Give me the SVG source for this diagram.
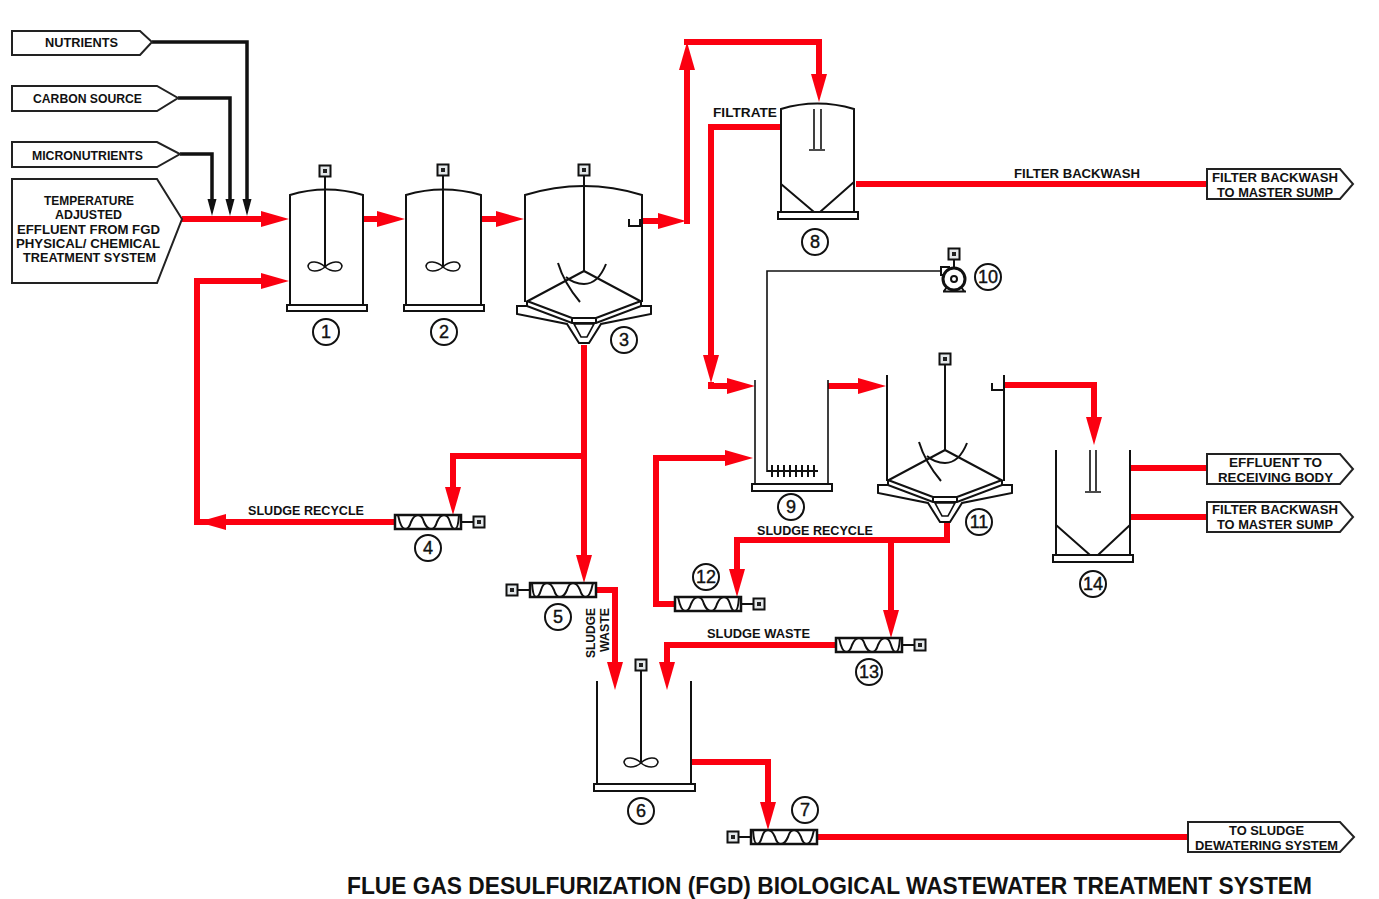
<svg xmlns="http://www.w3.org/2000/svg" xmlns:xlink="http://www.w3.org/1999/xlink" width="1379" height="899" viewBox="0 0 1379 899">
<style>
.l{fill:none;stroke:#111;stroke-width:2}
.n{fill:none;stroke:#111;stroke-width:1.6}
.b{fill:#fff;stroke:#111;stroke-width:2}
.tag{fill:#fff;stroke:#222;stroke-width:2}
.red{fill:none;stroke:#fb0010;stroke-width:6}
.ra{marker-end:url(#rh)}
.blk{fill:none;stroke:#111;stroke-width:3.5}
.ba{marker-end:url(#bh)}
text{font-family:"Liberation Sans",Arial,sans-serif;fill:#111}
.t{font-size:13px;font-weight:bold;text-anchor:middle}
.c{font-size:18px;text-anchor:middle;stroke:#111;stroke-width:.4}
.title{font-size:23px;font-weight:bold}
.ring{fill:#fff;stroke:#111;stroke-width:2}
</style>
<defs>
<marker id="rh" markerUnits="userSpaceOnUse" markerWidth="30" markerHeight="20" viewBox="0 0 30 20" refX="1" refY="10" orient="auto"><path d="M1,2 L29,10 L1,18Z" fill="#fb0010"/></marker>
<marker id="bh" markerUnits="userSpaceOnUse" markerWidth="20" markerHeight="12" viewBox="0 0 20 12" refX="1" refY="6" orient="auto"><path d="M1,1.5 L18,6 L1,10.5Z" fill="#111"/></marker>
<g id="motor"><rect x="-5.500" y="-5.500" width="11" height="11" fill="#e4e8ea" stroke="#111" stroke-width="2"/><rect x="-2" y="-2" width="4" height="4" fill="#222"/></g>
<g id="imp"><path d="M0,0 C-6,-6 -16,-7 -17,-1 C-16,6 -6,5 0,0 C6,-6 16,-7 17,-1 C16,6 6,5 0,0Z" class="n"/></g>
<g id="screw">
<rect x="0" y="-7" width="66" height="14" fill="#fff" stroke="#111" stroke-width="2.500"/>
<path d="M3,-7 Q6,7 10,7 Q14,7 16,0 Q19,-7 23,-7 Q27,-7 29,0 Q32,7 36,7 Q40,7 42,0 Q45,-7 49,-7 Q53,-7 55,0 Q57,7 60,7 Q63,7 64,-7" class="l"/>
<path d="M66,0 H79" class="l"/>
<use xlink:href="#motor" href="#motor" x="84"/>
</g>
<g id="cone">
<path d="M0,0 L-58,31 M0,0 L58,31" class="l"/>
<path d="M-67,35 H-57 L-12,52 H12 L57,35 H67 V43 L17,53 L5,72 H-5 L-17,53 L-67,43Z" class="b"/>
<path d="M-57,30 L-12,47 V52 M57,30 L12,47 V52 M-57,30 V35 M57,30 V35 M-12,47 H12" class="l"/>
<path d="M-10,53 H10 L3,66 H-3Z" class="n"/>
<path d="M-26,-8 Q-20,12 -4,31 M22,-7 Q14,13 0,13 Q-10,13 -18,6" class="l"/>
</g>
</defs>
<rect width="1379" height="899" fill="#fff"/>

<g id="connectors">
<path class="blk ba" d="M152,42 H247 V199"/>
<path class="blk ba" d="M178,98 H230 V199"/>
<path class="blk ba" d="M180,154 H212 V199"/>
<path class="red ra" d="M182,219 H261"/>
<path class="red ra" d="M363,219 H377"/>
<path class="red ra" d="M481,219 H496"/>
<path class="red ra" d="M642,221 H658"/>
<path class="red ra" d="M687,224 V70"/>
<path class="red" d="M684,42 H819 V65"/><path class="red ra" d="M819,65 V74"/>
<path class="red" d="M780,127 H711 V340"/><path class="red ra" d="M711,340 V355"/>
<path class="red ra" d="M708,386 H727"/><path class="red" d="M711,382 V389"/>
<path class="red ra" d="M828,386 H858"/>
<path class="red" d="M1004,385 H1094 V405"/><path class="red ra" d="M1094,405 V417"/>
<path class="red" d="M856,184 H1207"/>
<path class="red" d="M1130,468 H1207 M1130,517 H1207"/>
<path class="red" d="M584,345 V545"/><path class="red ra" d="M584,545 V555"/>
<path class="red" d="M584,456 H453 V475"/><path class="red ra" d="M453,475 V487"/>
<path class="red ra" d="M395,522 H226"/>
<path class="red" d="M226,522 H197 V281 H240"/><path class="red ra" d="M240,281 H261"/>
<path class="red" d="M596,590 H615 V650"/><path class="red ra" d="M615,650 V662"/>
<path class="red" d="M947,523 V540 H737 V555"/><path class="red ra" d="M737,555 V569"/>
<path class="red" d="M891,540 V595"/><path class="red ra" d="M891,595 V610"/>
<path class="red" d="M675,604 H656 V458 H710"/><path class="red ra" d="M710,458 H725"/>
<path class="red" d="M836,645 H667 V650"/><path class="red ra" d="M667,650 V662"/>
<path class="red" d="M692,762 H768 V790"/><path class="red ra" d="M768,790 V802"/>
<path class="red" d="M817,837 H1188"/>
<path class="n" d="M767,472 V271 H942"/>
</g>

<g id="tag-nutrients"><path class="tag" d="M12,31 H140 L152,42 L140,55 H12Z"/><text class="t" x="81.500" y="47" textLength="73" lengthAdjust="spacingAndGlyphs">NUTRIENTS</text></g>
<g id="tag-carbon"><path class="tag" d="M12,86 H157 L178,98 L157,111 H12Z"/><text class="t" x="87.500" y="103" textLength="109" lengthAdjust="spacingAndGlyphs">CARBON SOURCE</text></g>
<g id="tag-micro"><path class="tag" d="M12,142 H157 L180,154 L157,167 H12Z"/><text class="t" x="87.500" y="160" textLength="111" lengthAdjust="spacingAndGlyphs">MICRONUTRIENTS</text></g>
<g id="tag-effluent-in"><path class="tag" d="M12,179 H157 L182,219 L157,283 H12Z"/>
<text class="t" x="89" y="205" textLength="90" lengthAdjust="spacingAndGlyphs">TEMPERATURE</text>
<text class="t" x="88.500" y="219" textLength="67" lengthAdjust="spacingAndGlyphs">ADJUSTED</text>
<text class="t" x="88.500" y="234" textLength="143" lengthAdjust="spacingAndGlyphs">EFFLUENT FROM FGD</text>
<text class="t" x="88" y="248" textLength="144" lengthAdjust="spacingAndGlyphs">PHYSICAL/ CHEMICAL</text>
<text class="t" x="89.500" y="262" textLength="133" lengthAdjust="spacingAndGlyphs">TREATMENT SYSTEM</text></g>

<g id="tag-backwash-1"><path class="tag" d="M1207,169 H1340 L1353,184 L1340,199 H1207Z"/><text class="t" x="1275" y="182" textLength="126" lengthAdjust="spacingAndGlyphs">FILTER BACKWASH</text><text class="t" x="1275" y="197" textLength="116" lengthAdjust="spacingAndGlyphs">TO MASTER SUMP</text></g>
<g id="tag-effluent-out"><path class="tag" d="M1207,454 H1340 L1353,469 L1340,484 H1207Z"/><text class="t" x="1275.500" y="467" textLength="93" lengthAdjust="spacingAndGlyphs">EFFLUENT TO</text><text class="t" x="1275.500" y="482" textLength="115" lengthAdjust="spacingAndGlyphs">RECEIVING BODY</text></g>
<g id="tag-backwash-2"><path class="tag" d="M1207,502 H1340 L1353,517 L1340,532 H1207Z"/><text class="t" x="1275" y="514" textLength="126" lengthAdjust="spacingAndGlyphs">FILTER BACKWASH</text><text class="t" x="1275" y="529" textLength="116" lengthAdjust="spacingAndGlyphs">TO MASTER SUMP</text></g>
<g id="tag-dewatering"><path class="tag" d="M1188,822 H1340 L1354,837 L1340,852 H1188Z"/><text class="t" x="1266.500" y="835" textLength="75" lengthAdjust="spacingAndGlyphs">TO SLUDGE</text><text class="t" x="1266.500" y="850" textLength="143" lengthAdjust="spacingAndGlyphs">DEWATERING SYSTEM</text></g>

<g id="node-1"><path class="l" d="M290,305 V195 Q326,184 363,195 V305"/><rect class="b" x="287" y="305" width="80" height="6"/><path class="l" d="M325,176 V267"/><use xlink:href="#imp" href="#imp" x="325" y="267"/><use xlink:href="#motor" href="#motor" x="325" y="171"/><circle class="ring" cx="326" cy="332" r="13"/><text class="c" x="326" y="338">1</text></g>
<g id="node-2"><path class="l" d="M406,305 V195 Q443,184 481,195 V305"/><rect class="b" x="404" y="305" width="80" height="6"/><path class="l" d="M443,176 V267"/><use xlink:href="#imp" href="#imp" x="443" y="267"/><use xlink:href="#motor" href="#motor" x="443" y="170"/><circle class="ring" cx="444" cy="332" r="13"/><text class="c" x="444" y="338">2</text></g>
<g id="node-3"><path class="l" d="M525,302 V195 Q584,177 642,195 V302"/><path class="l" d="M584,176 V271"/><use xlink:href="#cone" href="#cone" x="584" y="271"/><use xlink:href="#motor" href="#motor" x="584" y="170"/><path class="l" d="M629,219 V226 H640 V219"/><circle class="ring" cx="624" cy="340" r="13"/><text class="c" x="624" y="346">3</text></g>
<g id="node-4"><use xlink:href="#screw" href="#screw" x="395" y="522"/><circle class="ring" cx="428" cy="548" r="13"/><text class="c" x="428" y="554">4</text></g>
<g id="node-5"><use xlink:href="#screw" href="#screw" transform="translate(596,590) scale(-1,1)"/><circle class="ring" cx="558" cy="617" r="13"/><text class="c" x="558" y="623">5</text></g>
<g id="node-6"><path class="l" d="M597,681 V784 M691,681 V784"/><rect class="b" x="594" y="784" width="101" height="7"/><path class="l" d="M641,671 V763"/><use xlink:href="#imp" href="#imp" x="641" y="763"/><use xlink:href="#motor" href="#motor" x="641" y="665"/><circle class="ring" cx="641" cy="811" r="13"/><text class="c" x="641" y="817">6</text></g>
<g id="node-7"><use xlink:href="#screw" href="#screw" transform="translate(817,837) scale(-1,1)"/><circle class="ring" cx="805" cy="810" r="13"/><text class="c" x="805" y="816">7</text></g>
<g id="node-8"><path class="l" d="M781,212 V109 Q817,98 854,109 V184 V212"/><path class="l" d="M781,184 L814,212 M854,182 L820,212"/><rect class="b" x="778" y="212" width="80" height="7"/><path class="n" d="M814,109 V149 M821,109 V149 M809,150 H825"/><circle class="ring" cx="815" cy="242" r="13"/><text class="c" x="815" y="248">8</text></g>
<g id="node-9"><path class="n" d="M755,380 V484 M828,380 V484"/><rect class="b" x="752" y="484" width="80" height="7"/><path class="l" d="M767,471 H818 M772,465 V477 M778,465 V477 M784,465 V477 M790,465 V477 M796,465 V477 M802,465 V477 M808,465 V477 M814,465 V477"/><circle class="ring" cx="791" cy="507" r="13"/><text class="c" x="791" y="513">9</text></g>
<g id="node-10"><rect x="941" y="267" width="8" height="8" class="b"/><circle cx="954" cy="279" r="11" fill="#fff" stroke="#111" stroke-width="3"/><circle class="l" cx="954" cy="279" r="3"/><path class="l" d="M954,259 V268 M943,291.500 H966 M947,287 L944,291 M961,287 L964,291"/><use xlink:href="#motor" href="#motor" x="954" y="254"/><circle class="ring" cx="988" cy="277" r="13"/><text class="c" x="988" y="283">10</text></g>
<g id="node-11"><path class="l" d="M887,375 V481 M1004,375 V481"/><path class="l" d="M945,365 V450"/><use xlink:href="#cone" href="#cone" x="945" y="450"/><use xlink:href="#motor" href="#motor" x="945" y="359"/><path class="l" d="M992,383 V390 H1003"/><circle class="ring" cx="979" cy="522" r="13"/><text class="c" x="979" y="528">11</text></g>
<g id="node-12"><use xlink:href="#screw" href="#screw" x="675" y="604"/><circle class="ring" cx="706" cy="577" r="13"/><text class="c" x="706" y="583">12</text></g>
<g id="node-13"><use xlink:href="#screw" href="#screw" x="836" y="645"/><circle class="ring" cx="869" cy="672" r="13"/><text class="c" x="869" y="678">13</text></g>
<g id="node-14"><path class="l" d="M1056,450 V555 M1130,450 V555 M1056,525 L1090,555 M1130,525 L1098,555"/><rect class="b" x="1053" y="555" width="80" height="7"/><path class="n" d="M1090,450 V491 M1096,450 V491 M1085,492 H1101"/><circle class="ring" cx="1093" cy="584" r="13"/><text class="c" x="1093" y="590">14</text></g>

<g id="labels">
<text class="t" x="745" y="117" textLength="64" lengthAdjust="spacingAndGlyphs">FILTRATE</text>
<text class="t" x="1077" y="178" textLength="126" lengthAdjust="spacingAndGlyphs">FILTER BACKWASH</text>
<text class="t" x="306" y="515" textLength="116" lengthAdjust="spacingAndGlyphs">SLUDGE RECYCLE</text>
<text class="t" x="815" y="535" textLength="116" lengthAdjust="spacingAndGlyphs">SLUDGE RECYCLE</text>
<text class="t" x="758.500" y="638" textLength="103" lengthAdjust="spacingAndGlyphs">SLUDGE WASTE</text>
<text class="t" transform="translate(595,633) rotate(-90)" textLength="50" lengthAdjust="spacingAndGlyphs">SLUDGE</text>
<text class="t" transform="translate(609,630) rotate(-90)" textLength="44" lengthAdjust="spacingAndGlyphs">WASTE</text>
<text class="title" x="347" y="894" textLength="965" lengthAdjust="spacingAndGlyphs">FLUE GAS DESULFURIZATION (FGD) BIOLOGICAL WASTEWATER TREATMENT SYSTEM</text>
</g>
</svg>
